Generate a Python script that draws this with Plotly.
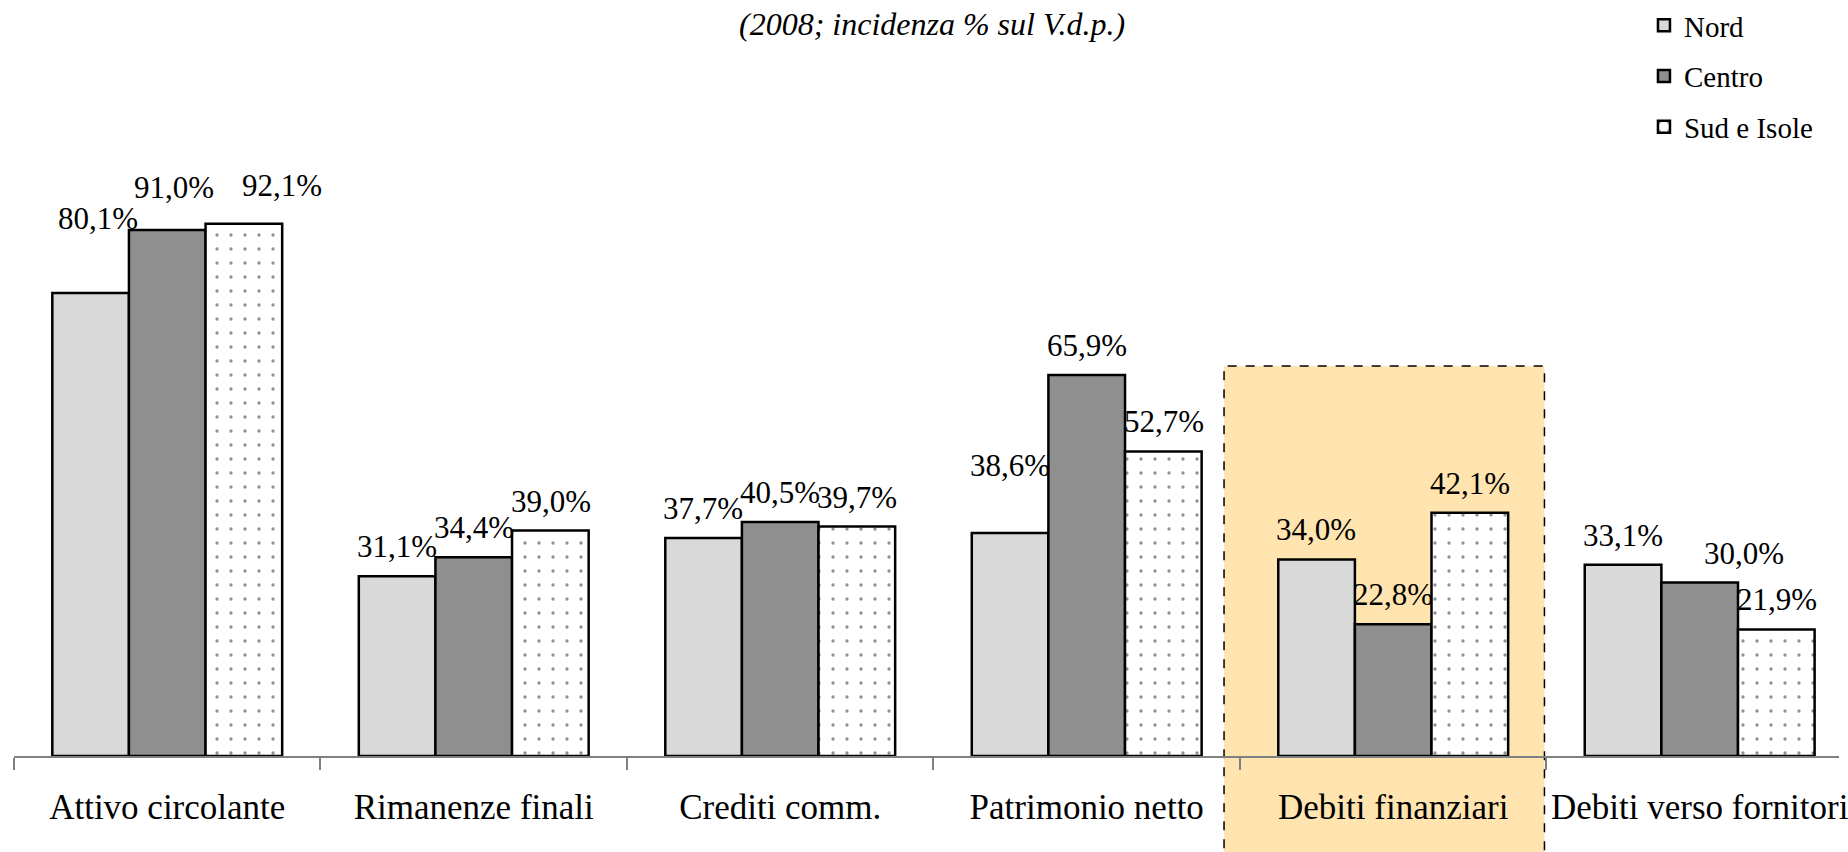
import plotly.graph_objects as go

categories = ["Attivo circolante", "Rimanenze finali", "Crediti comm.",
              "Patrimonio netto", "Debiti finanziari", "Debiti verso fornitori"]
series_names = ["Nord", "Centro", "Sud e Isole"]
nord = [80.1, 31.1, 37.7, 38.6, 34.0, 33.1]
centro = [91.0, 34.4, 40.5, 65.9, 22.8, 30.0]
sud = [92.1, 39.0, 39.7, 52.7, 42.1, 21.9]
subtitle = "(2008; incidenza % sul V.d.p.)"
highlight_category = "Debiti finanziari"

# ---- layout / style ----
W, H = 1848, 852
AXIS_Y = 756
ML, MR, MT = 14, 0, 130
MB = H - AXIS_Y
PX_PER_UNIT = 5.78
PX_PER_CAT = 308
plot_w = W - ML - MR
plot_h = H - MT - MB
x_min = -0.5
x_max = x_min + plot_w / PX_PER_CAT
y_max = plot_h / PX_PER_UNIT
BARGAP = 0.25
bar_px = (1 - BARGAP) / 3 * PX_PER_CAT

SERIF = "Palatino Linotype, Book Antiqua, Liberation Serif, serif"
colors = ["#d9d9d9", "#8f8f8f", "#ffffff"]
label_base_shift = 29.5
# extra label offsets (dx, dy) in px keyed by (series index, category index)
label_extra = {(0, 0): (8, 45), (1, 0): (7, 13), (2, 0): (38, 9),
               (0, 3): (0, 37.5), (1, 5): (44, 0)}

fig = go.Figure()
all_series = [nord, centro, sud]
for i, (name, vals) in enumerate(zip(series_names, all_series)):
    marker = dict(color=colors[i], line=dict(color="black", width=2.5))
    if i == 2:
        marker["pattern"] = dict(shape=".", size=14, solidity=0.045,
                                 fgcolor="#222222", bgcolor="#ffffff",
                                 fillmode="overlay")
    fig.add_trace(go.Bar(name=name, x=categories, y=vals, marker=marker,
                         legendgroup=name))

annotations = []
for i, vals in enumerate(all_series):
    for j, v in enumerate(vals):
        dx, dy = label_extra.get((i, j), (0, 0))
        annotations.append(dict(
            x=categories[j], y=v, xref="x", yref="y",
            text=f"{v:.1f}".replace(".", ",") + "%",
            showarrow=False, xanchor="center", yanchor="middle",
            xshift=(i - 1) * bar_px + dx, yshift=label_base_shift + dy,
            font=dict(family=SERIF, size=31, color="black")))

def px_to_paper_y(py):
    return (AXIS_Y - py) / plot_h

def px_to_paper_x(px):
    return (px - ML) / plot_w

annotations.append(dict(
    x=px_to_paper_x(937), y=px_to_paper_y(24), xref="paper", yref="paper",
    text="<i>" + subtitle + "</i>", showarrow=False,
    xanchor="center", yanchor="middle",
    font=dict(family=SERIF, size=32, color="black")))

hi = categories.index(highlight_category)
def xp(x):
    return (x - x_min) / (x_max - x_min)
shapes = [dict(type="rect", xref="paper", yref="paper",
               x0=xp(hi - 0.5 - 16 / PX_PER_CAT), x1=xp(hi + 0.5 - 2 / PX_PER_CAT),
               y0=-0.3, y1=px_to_paper_y(366),
               fillcolor="#ffe4b0", line=dict(color="black", width=1.5, dash="dash"),
               layer="below")]

fig.update_layout(
    width=W, height=H,
    margin=dict(l=ML, r=MR, t=MT, b=MB, pad=0),
    paper_bgcolor="white", plot_bgcolor="rgba(0,0,0,0)",
    barmode="group", bargap=BARGAP, bargroupgap=0,
    showlegend=True,
    legend=dict(x=px_to_paper_x(1652), xanchor="left",
                y=px_to_paper_y(0), yanchor="top",
                font=dict(family=SERIF, size=29, color="black"),
                traceorder="grouped", tracegroupgap=10,
                bgcolor="rgba(0,0,0,0)"),
    annotations=annotations, shapes=shapes,
    xaxis=dict(range=[x_min, x_max], showgrid=False, zeroline=False,
               showline=True, linecolor="#808080", linewidth=1.5,
               ticks="outside", tickson="boundaries", ticklen=12,
               tickcolor="#808080", tickwidth=1.5,
               ticklabelstandoff=19,
               tickfont=dict(family=SERIF, size=35, color="black")),
    yaxis=dict(range=[0, y_max], visible=False, showgrid=False, zeroline=False),
)

fig.write_html(
    "out.html",
    config={"displayModeBar": False},
    post_script="document.documentElement.style.overflow='hidden';"
                "document.body.style.margin='0';"
                "document.body.style.overflow='hidden';")
